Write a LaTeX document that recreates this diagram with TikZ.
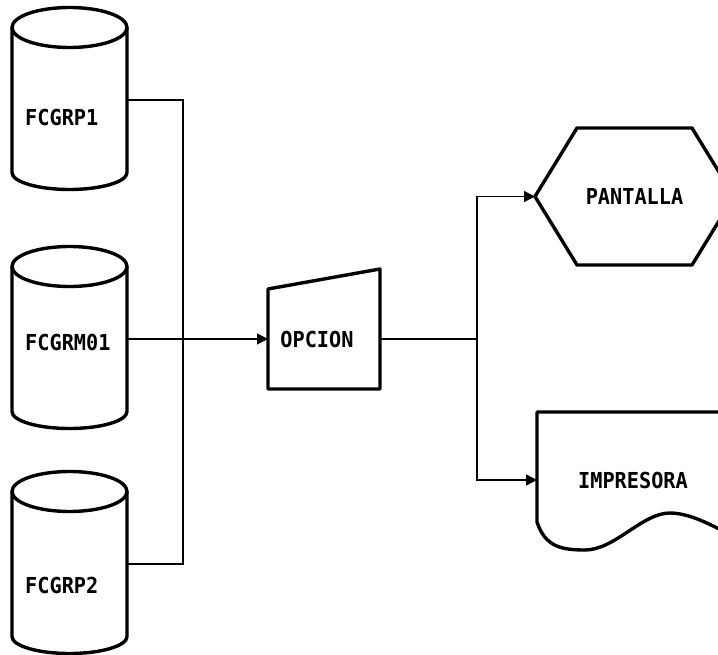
\documentclass[tikz,border=0pt]{standalone}
\usepackage{fontspec}
\usepackage{tikz}
\usetikzlibrary{calc,positioning}
\usetikzlibrary{shapes,arrows.meta}
\newfontfamily\chartfont[FakeStretch=0.92]{DejaVu Sans Mono}

\begin{document}
\begin{tikzpicture}[x=1pt,y=1pt,
    body/.style={draw=none,inner sep=0pt,outer sep=0pt},
    outline/.style={line width=3.4pt,line join=round},
    wire/.style={line width=1.3pt},
    flow/.style={wire,-{Triangle[length=11pt,width=11pt]}},
    lbl/.style={font=\chartfont\bfseries\fontsize{22}{22}\selectfont,inner sep=0pt}]
    % Page size of the original scan
    \clip (0,0) rectangle (718,654);
    % Data files (cylinders), left column
    \foreach \name/\yy/\ty/\txt in {fcgrp1/554/537/FCGRP1,fcgrm01/315/312/FCGRM01,fcgrp2/90/69/FCGRP2} {
        \node[body,minimum width=115,minimum height=145] (\name) at (69.5,\yy) {};
        \draw[outline] (\name.north west) -- (\name.south west)
            arc[start angle=180,end angle=360,x radius=57.5,y radius=17] -- (\name.north east);
        \draw[outline] (\name.north) ellipse[x radius=57.5,y radius=20];
        \node[lbl,anchor=west] at (25,\ty) {\txt};
    }
    % Manual input box
    \node[body,minimum width=112,minimum height=100] (opcion) at (324,315) {};
    \draw[outline] (opcion.north west) -- (opcion.south west) -- (opcion.south east)
        -- ([yshift=20]opcion.north east) -- cycle;
    \node[lbl] at (317,315) {OPCION};
    % Display (hexagon)
    \node[body,minimum width=199,minimum height=137] (pantalla) at (634.5,457.5) {};
    \draw[outline] (pantalla.west) -- ([xshift=42]pantalla.north west)
        -- ([xshift=-42]pantalla.north east) -- (pantalla.east)
        -- ([xshift=-42]pantalla.south east) -- ([xshift=42]pantalla.south west) -- cycle;
    \node[lbl] at (pantalla.center) {PANTALLA};
    % Printed report (document)
    \node[body,minimum width=220,minimum height=136] (impresora) at (647,174) {};
    \draw[outline] (impresora.north east) -- (impresora.north west)
        -- ([yshift=-110]impresora.north west)
        .. controls +(8,-24) and +(-25,0) .. (585,104)
        .. controls +(30,0) and +(-28,0) .. (670,141)
        .. controls +(28,0) and +(-25,10) .. (impresora.south east);
    \node[lbl] at (633,174) {IMPRESORA};
    % Junction points
    \coordinate (joinL) at (183,315);
    \coordinate (joinR) at (477,315);
    % Connectors
    \draw[wire] (fcgrp1.east) -| (joinL) |- (fcgrp2.east);
    \draw[flow] (fcgrm01.east) -- (opcion.west);
    \draw[wire] (opcion.east) -- (joinR);
    \draw[flow] (joinR) |- (pantalla.west);
    \draw[flow] (joinR) |- (impresora.west);
\end{tikzpicture}
\end{document}
